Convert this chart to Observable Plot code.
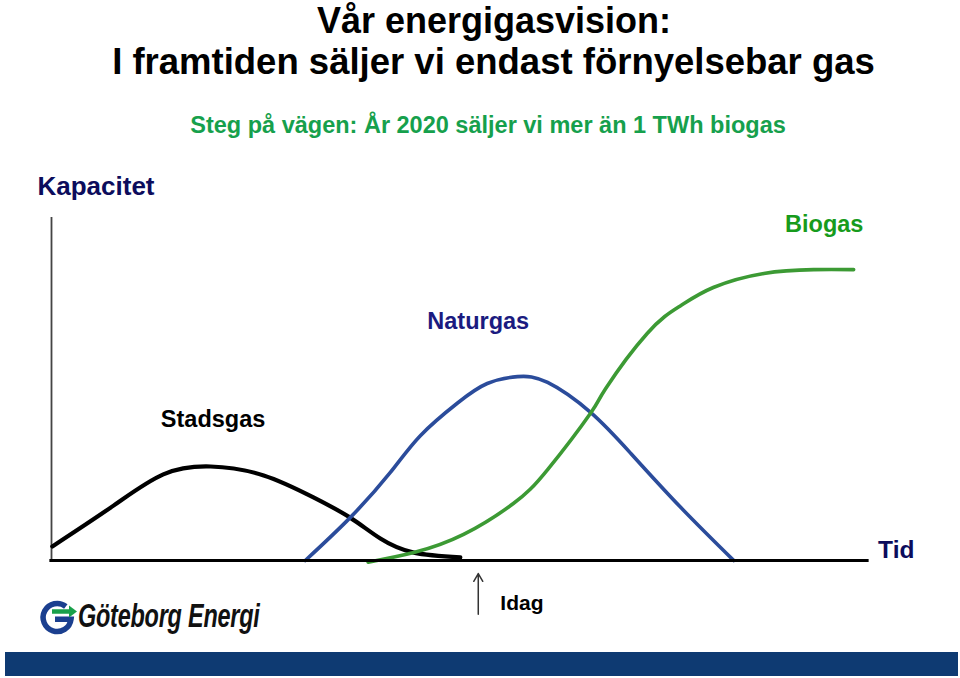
<!DOCTYPE html>
<html><head><meta charset="utf-8">
<script src="https://cdn.jsdelivr.net/npm/d3@7"></script>
<script src="https://cdn.jsdelivr.net/npm/@observablehq/plot@0.6"></script>
<style>
body{margin:0;background:#fff;font-family:"Liberation Sans",Arial,Helvetica,sans-serif;}
#page{position:relative;width:960px;height:678px;overflow:hidden;background:#fff;}
.t{position:absolute;white-space:nowrap;font-weight:bold;line-height:1;transform:translateX(-50%);}
#chart{position:absolute;left:0;top:150px;}
#logoText{position:absolute;left:78px;top:599px;font-size:33px;line-height:1;font-weight:bold;font-style:italic;color:#111;white-space:nowrap;transform:scaleX(0.71);transform-origin:0 0;letter-spacing:-0.3px;}
#logoIcon{position:absolute;left:0;top:595px;}
#bar{position:absolute;left:5px;top:652px;width:953px;height:24px;background:#0e3a72;}
</style></head><body>
<div id="page">
  <div class="t" style="left:494px;top:3px;font-size:36px;color:#000">Vår energigasvision:</div>
  <div class="t" style="left:493.5px;top:44px;font-size:36.5px;color:#000">I framtiden säljer vi endast förnyelsebar gas</div>
  <div class="t" style="left:488px;top:113.5px;font-size:23.5px;color:#16a04c">Steg på vägen: År 2020 säljer vi mer än 1 TWh biogas</div>
  <div id="chart"></div>
  <svg id="logoIcon" width="90" height="45">
    <path d="M65.8,11.5 A14,14 0 1 0 71,24.3 L55,24.3" fill="none" stroke="#1b3f8f" stroke-width="5.5"/>
    <path d="M52,16.5 L70,16.5" stroke="#19a04a" stroke-width="4.5" fill="none"/>
    <path d="M69,10.5 L77,16.5 L69,22.5 Z" fill="#19a04a"/>
  </svg>
  <div id="logoText">Göteborg Energi</div>
  <div id="bar"></div>
</div>
<script>
// Time (0–100 along the Tid axis) and capacity (0–100 along the Kapacitet axis)
const stadsgasT = [0.1, 7.6, 13.7, 19.5, 26.0, 32.1, 36.6, 40.3, 44.4, 50.1];
const stadsgasC = [4.1, 16.0, 25.1, 27.4, 24.8, 18.4, 12.5, 6.4, 2.3, 0.9];
const naturgasT = [31.1, 36.6, 41.5, 45.2, 49.8, 53.4, 57.1, 60.8, 66.1, 71.0, 77.1, 83.6];
const naturgasC = [0, 12.5, 25.6, 36.4, 46.0, 51.6, 53.6, 51.9, 43.1, 31.2, 15.5, 0];
const biogasT = [38.8, 44.4, 50.5, 56.6, 60.8, 66.1, 67.9, 73.0, 77.1, 81.1, 87.3, 93.4, 98.3];
const biogasC = [-0.5, 2.3, 7.6, 16.6, 26.5, 43.1, 50.1, 66.2, 74.3, 79.6, 83.7, 84.8, 84.8];
const seriesNames = ["Stadsgas", "Naturgas", "Biogas"];
const axisLabels = ["Kapacitet", "Tid"];
const todayLabel = "Idag";

const toRows = (T, C) => T.map((t, i) => ({t, c: C[i]}));
const stadsgas = toRows(stadsgasT, stadsgasC);
const naturgas = toRows(naturgasT, naturgasC);
const biogas = toRows(biogasT, biogasC);

const font = '"Liberation Sans", Arial, Helvetica, sans-serif';
const label = (txt, opts) => Plot.text([txt], {text: d => d, fontWeight: "bold", lineAnchor: "bottom", ...opts});

const chart = Plot.plot({
  width: 960, height: 528,
  marginLeft: 51, marginRight: 93, marginTop: 67, marginBottom: 118,
  x: {domain: [0, 100], axis: null},
  y: {domain: [0, 100], axis: null},
  style: {fontFamily: font, background: "transparent", overflow: "visible"},
  marks: [
    Plot.ruleX([0], {y1: 0, y2: 100, stroke: "#444", strokeWidth: 1.8}),
    Plot.line(stadsgas, {x: "t", y: "c", curve: "natural", stroke: "#000", strokeWidth: 4.2}),
    Plot.line(naturgas, {x: "t", y: "c", curve: "natural", stroke: "#2b4c9b", strokeWidth: 3.6}),
    Plot.line(biogas, {x: "t", y: "c", curve: "natural", stroke: "#3c9a34", strokeWidth: 3.6}),
    Plot.ruleY([0], {x1: -0.2, x2: 100.2, stroke: "#000", strokeWidth: 3}),
    label(seriesNames[0], {x: 19.8, y: 38.9, fontSize: 23.5, fill: "#000", textAnchor: "middle"}),
    label(seriesNames[1], {x: 52.3, y: 67.6, fontSize: 23.5, fill: "#1b1b80", textAnchor: "middle"}),
    label(seriesNames[2], {x: 94.7, y: 95.9, fontSize: 23.5, fill: "#179b1c", textAnchor: "middle"}),
    label(axisLabels[0], {x: -1.72, y: 106.6, fontSize: 26, fill: "#0c0c5c", textAnchor: "start"}),
    label(axisLabels[1], {x: 101.3, y: 0.67, fontSize: 24.5, fill: "#0c0c5c", textAnchor: "start"}),
    label(todayLabel, {x: 55.0, y: -14.4, fontSize: 21, fill: "#000", textAnchor: "start"}),
    Plot.arrow([0], {x1: 52.3, x2: 52.3, y1: -15.7, y2: -3.8, stroke: "#333", strokeWidth: 1.5, headLength: 9})
  ]
});
document.getElementById("chart").appendChild(chart);
</script>
</body></html>
